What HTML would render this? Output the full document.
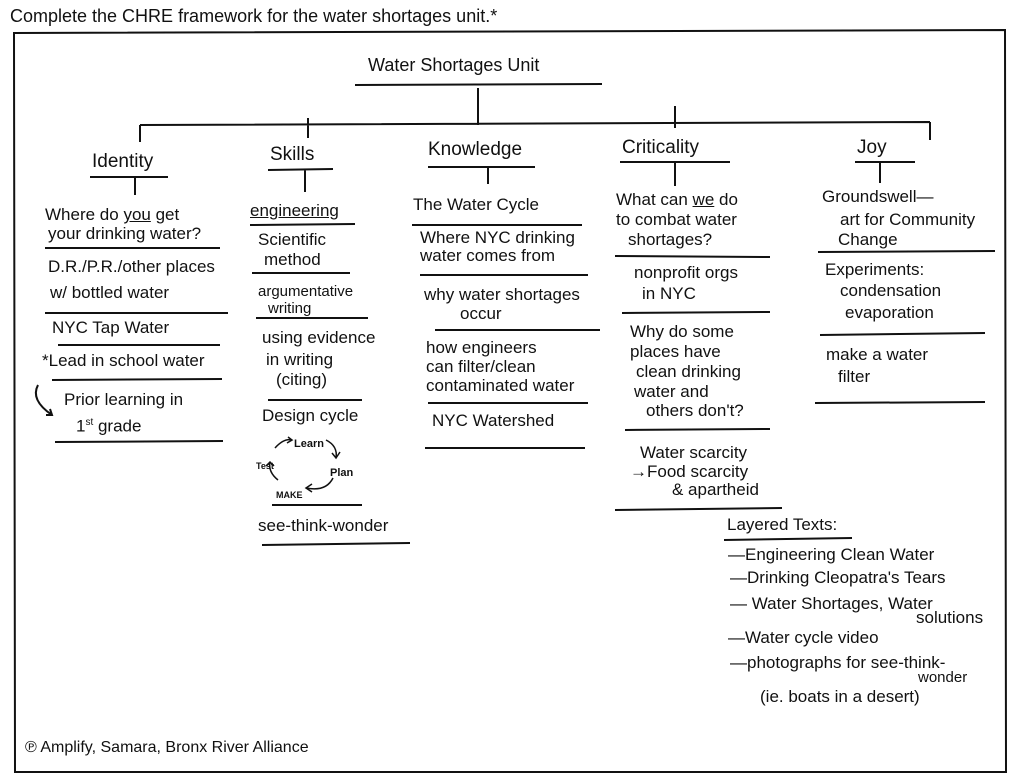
<!DOCTYPE html>
<html><head><meta charset="utf-8"><style>
html,body{margin:0;padding:0;background:#fff;}
#c{position:relative;width:1024px;height:783px;overflow:hidden;font-family:"Liberation Sans",sans-serif;color:#111;}
.t{position:absolute;font-size:17px;line-height:20px;white-space:nowrap;}
.s{font-size:15px;}
.x{font-size:9px;font-weight:bold;}
svg{position:absolute;left:0;top:0;}
</style></head><body><div id="c">
<svg width="1024" height="783" stroke="#111" stroke-width="2" fill="none">
<path d="M14 33 L1005 30 L1006 772 L15 772 Z"/>
<path d="M355 85 L602 84"/>
<path d="M478 88 L478 125 M140 125 L930 122 M140 125 L140 142 M308 118 L308 138 M478 112 L478 125 M675 106 L675 128 M930 122 L930 140"/>
<path d="M90 177 L168 177 M135 177 L135 195"/>
<path d="M268 170 L333 169 M305 170 L305 192"/>
<path d="M428 167 L535 167 M488 167 L488 184"/>
<path d="M620 162 L730 162 M675 162 L675 186"/>
<path d="M855 162 L915 162 M880 162 L880 183"/>
<path d="M45 248 L220 248 M45 313 L228 313 M58 345 L220 345 M52 380 L222 379 M55 442 L223 441"/>
<path d="M250 225 L355 224 M252 273 L350 273 M256 318 L368 318 M268 400 L362 400 M272 505 L362 505 M262 545 L410 543"/>
<path d="M412 225 L582 225 M420 275 L588 275 M435 330 L600 330 M428 403 L588 403 M425 448 L585 448"/>
<path d="M615 256 L770 257 M622 313 L770 312 M625 430 L770 429 M615 510 L782 508"/>
<path d="M818 252 L995 251 M820 335 L985 333 M815 403 L985 402"/>
<path d="M724 540 L852 538"/>
<path d="M38 385 Q30 400 52 415 M46 415 L52 415 L50 409"/>
<path d="M275 448 Q284 438 292 440 M326 440 Q338 446 336 458 M333 478 Q326 492 306 488 M278 480 Q268 472 270 462" stroke-width="1.5"/>
<path d="M332 453 L336 458 L340 452 M312 484 L306 488 L312 492 M266 466 L270 462 L274 466 M288 437 L292 440 L287 443" stroke-width="1.5"/>
</svg>
<div class="t" style="left:10px;top:6px;font-size:18px">Complete the CHRE framework for the water shortages unit.*</div>
<div class="t" style="left:368px;top:55px;font-size:18px">Water Shortages Unit</div>
<div class="t" style="left:92px;top:152px;font-size:19px">Identity</div>
<div class="t" style="left:270px;top:145px;font-size:19px">Skills</div>
<div class="t" style="left:428px;top:140px;font-size:19px">Knowledge</div>
<div class="t" style="left:622px;top:138px;font-size:19px">Criticality</div>
<div class="t" style="left:857px;top:138px;font-size:19px">Joy</div>

<div class="t" style="left:45px;top:205px">Where do <u>you</u> get</div>
<div class="t" style="left:48px;top:224px">your drinking water?</div>
<div class="t" style="left:48px;top:257px">D.R./P.R./other places</div>
<div class="t" style="left:50px;top:283px">w/ bottled water</div>
<div class="t" style="left:52px;top:318px">NYC Tap Water</div>
<div class="t" style="left:42px;top:351px">*Lead in school water</div>
<div class="t" style="left:64px;top:390px">Prior learning in</div>
<div class="t" style="left:76px;top:413px">1<sup style="font-size:10px">st</sup> grade</div>

<div class="t" style="left:250px;top:201px"><u>engineering</u></div>
<div class="t" style="left:258px;top:230px">Scientific</div>
<div class="t" style="left:264px;top:250px">method</div>
<div class="t s" style="left:258px;top:282px">argumentative</div>
<div class="t s" style="left:268px;top:299px">writing</div>
<div class="t" style="left:262px;top:328px">using evidence</div>
<div class="t" style="left:266px;top:350px">in writing</div>
<div class="t" style="left:276px;top:370px">(citing)</div>
<div class="t" style="left:262px;top:406px">Design cycle</div>
<div class="t x" style="left:294px;top:434px;font-size:11px">Learn</div>
<div class="t x" style="left:256px;top:456px">Test</div>
<div class="t x" style="left:330px;top:463px;font-size:11px">Plan</div>
<div class="t x" style="left:276px;top:485px">MAKE</div>
<div class="t" style="left:258px;top:516px">see-think-wonder</div>

<div class="t" style="left:413px;top:195px">The Water Cycle</div>
<div class="t" style="left:420px;top:228px">Where NYC drinking</div>
<div class="t" style="left:420px;top:246px">water comes from</div>
<div class="t" style="left:424px;top:285px">why water shortages</div>
<div class="t" style="left:460px;top:304px">occur</div>
<div class="t" style="left:426px;top:338px">how engineers</div>
<div class="t" style="left:426px;top:357px">can filter/clean</div>
<div class="t" style="left:426px;top:376px">contaminated water</div>
<div class="t" style="left:432px;top:411px">NYC Watershed</div>

<div class="t" style="left:616px;top:190px">What can <u>we</u> do</div>
<div class="t" style="left:616px;top:210px">to combat water</div>
<div class="t" style="left:628px;top:230px">shortages?</div>
<div class="t" style="left:634px;top:263px">nonprofit orgs</div>
<div class="t" style="left:642px;top:284px">in NYC</div>
<div class="t" style="left:630px;top:322px">Why do some</div>
<div class="t" style="left:630px;top:342px">places have</div>
<div class="t" style="left:636px;top:362px">clean drinking</div>
<div class="t" style="left:634px;top:382px">water and</div>
<div class="t" style="left:646px;top:401px">others don't?</div>
<div class="t" style="left:640px;top:443px">Water scarcity</div>
<div class="t" style="left:630px;top:462px">→Food scarcity</div>
<div class="t" style="left:672px;top:480px">&amp; apartheid</div>

<div class="t" style="left:822px;top:187px">Groundswell—</div>
<div class="t" style="left:840px;top:210px">art for Community</div>
<div class="t" style="left:838px;top:230px">Change</div>
<div class="t" style="left:825px;top:260px">Experiments:</div>
<div class="t" style="left:840px;top:281px">condensation</div>
<div class="t" style="left:845px;top:303px">evaporation</div>
<div class="t" style="left:826px;top:345px">make a water</div>
<div class="t" style="left:838px;top:367px">filter</div>

<div class="t" style="left:727px;top:515px">Layered Texts:</div>
<div class="t" style="left:728px;top:545px">—Engineering Clean Water</div>
<div class="t" style="left:730px;top:568px">—Drinking Cleopatra's Tears</div>
<div class="t" style="left:730px;top:594px">— Water Shortages, Water</div>
<div class="t" style="left:916px;top:608px">solutions</div>
<div class="t" style="left:728px;top:628px">—Water cycle video</div>
<div class="t" style="left:730px;top:653px">—photographs for see-think-</div>
<div class="t s" style="left:918px;top:668px">wonder</div>
<div class="t" style="left:760px;top:687px">(ie. boats in a desert)</div>

<div class="t" style="left:25px;top:738px;font-size:16px">℗ Amplify, Samara, Bronx River Alliance</div>
</div></body></html>
